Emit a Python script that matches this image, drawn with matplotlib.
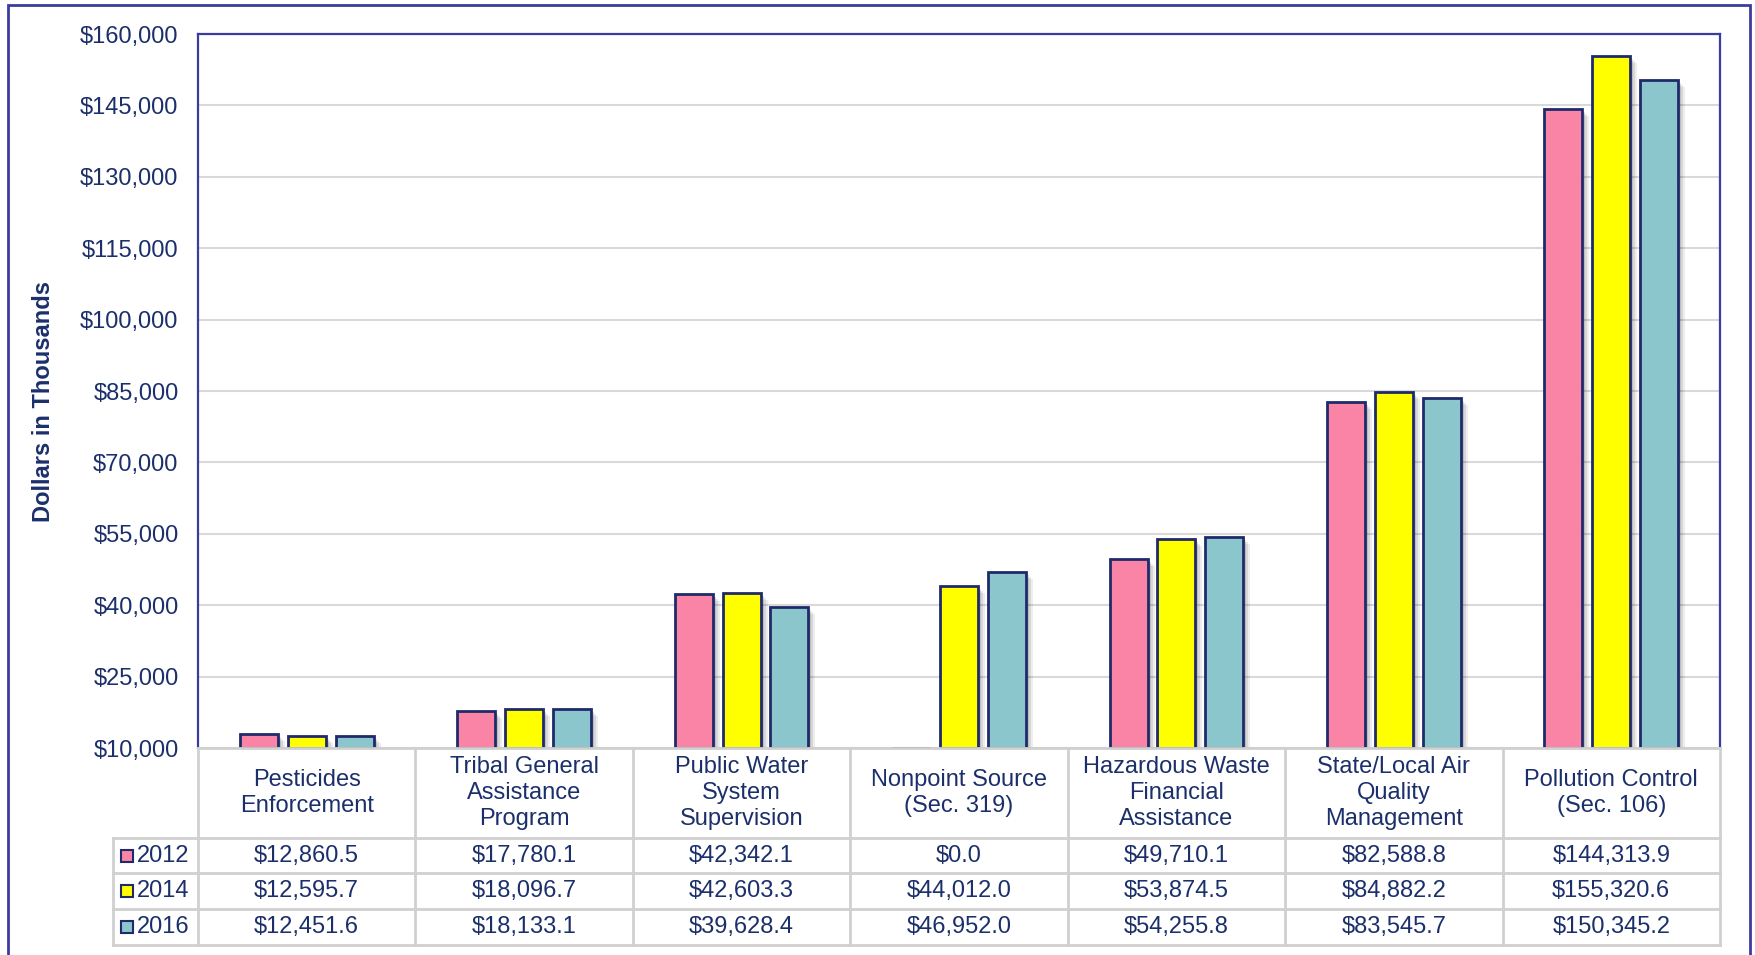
import matplotlib
matplotlib.use("Agg")
import matplotlib.pyplot as plt
from matplotlib.patches import Rectangle
from matplotlib.lines import Line2D

plt.rcParams['font.family'] = ['Liberation Sans', 'DejaVu Sans']

categories = ["Pesticides\nEnforcement", "Tribal General\nAssistance\nProgram",
              "Public Water\nSystem\nSupervision", "Nonpoint Source\n(Sec. 319)",
              "Hazardous Waste\nFinancial\nAssistance", "State/Local Air\nQuality\nManagement",
              "Pollution Control\n(Sec. 106)"]
years = ["2012", "2014", "2016"]
v2012 = [12860.5, 17780.1, 42342.1, 0.0, 49710.1, 82588.8, 144313.9]
v2014 = [12595.7, 18096.7, 42603.3, 44012.0, 53874.5, 84882.2, 155320.6]
v2016 = [12451.6, 18133.1, 39628.4, 46952.0, 54255.8, 83545.7, 150345.2]
yticks = [10000, 25000, 40000, 55000, 70000, 85000, 100000, 115000, 130000, 145000, 160000]

series = [v2012, v2014, v2016]
colors = ["#F984A6", "#FFFF00", "#8CC6CD"]
navy = "#1B2F6B"
edge = "#1F2A6B"
frame = "#3C3CA0"
grid = "#D9D9D9"

W, H = 1756, 955
fig = plt.figure(figsize=(W / 100, H / 100), dpi=100)

def fx(x):
    return x / W

def fy(y):
    return 1 - y / H

# outer border
fig.add_artist(Rectangle((fx(8), -0.02), fx(1750) - fx(8), fy(5) + 0.02,
                         transform=fig.transFigure, fill=False, ec=frame, lw=2))

left, right, top, bottom = 198, 1720, 34, 748
ax = fig.add_axes([fx(left), fy(bottom), fx(right) - fx(left), fy(top) - fy(bottom)])
n = len(categories)
ymin, ymax = yticks[0], yticks[-1]
ax.set_xlim(-0.5, n - 0.5)
ax.set_ylim(ymin, ymax)
ax.set_yticks(yticks)
ax.set_yticklabels(["${:,.0f}".format(t) for t in yticks], color=navy, fontsize=17)
ax.tick_params(axis='y', length=0, pad=14)
ax.set_xticks([])
for t in yticks:
    ax.axhline(t, color=grid, lw=1.5, zorder=0)
for s in ['left', 'right', 'top']:
    ax.spines[s].set_color(frame)
    ax.spines[s].set_linewidth(1.6)
ax.spines['bottom'].set_visible(False)

px_x = (n) / (right - left)
px_y = (ymax - ymin) / (bottom - top)
bw = 0.175
step = 0.22
for i, (vals, c) in enumerate(zip(series, colors)):
    for j, v in enumerate(vals):
        xc = j + (i - 1) * step
        h = max(v - ymin, 0)
        # soft shadow
        for k, a in zip([7, 5, 3], [0.07, 0.09, 0.12]):
            ax.add_patch(Rectangle((xc - bw / 2 + k * px_x, ymin), bw, max(h - k * px_y, 0),
                                   fc="black", ec="none", alpha=a, zorder=1))
        ax.bar(xc, h, bottom=ymin, width=bw, color=c, edgecolor=edge, linewidth=2, zorder=2)

fig.text(fx(44), fy(401), "Dollars in Thousands", rotation=90, ha='center', va='center',
         fontsize=17, fontweight='bold', color=navy)

# data table
col_x = [left + (right - left) * k / n for k in range(n + 1)]
rows_y = [748, 838, 873, 909, 945]
tc = "#D0D0D0"
for y in rows_y:
    x0 = left if y == 748 else 113
    fig.add_artist(Line2D([fx(x0), fx(right)], [fy(y), fy(y)], color=tc, lw=2,
                          transform=fig.transFigure))
for x in col_x:
    fig.add_artist(Line2D([fx(x), fx(x)], [fy(748), fy(945)], color=tc, lw=2,
                          transform=fig.transFigure))
fig.add_artist(Line2D([fx(113), fx(113)], [fy(838), fy(945)], color=tc, lw=2,
                      transform=fig.transFigure))

for j, cat in enumerate(categories):
    xc = (col_x[j] + col_x[j + 1]) / 2
    fig.text(fx(xc), fy(793), cat, ha='center', va='center', fontsize=17,
             color=navy, linespacing=1.22)
    for i, vals in enumerate(series):
        yc = (rows_y[i + 1] + rows_y[i + 2]) / 2
        fig.text(fx(xc), fy(yc), "${:,.1f}".format(vals[j]), ha='center', va='center',
                 fontsize=17, color=navy)

for i, (yr, c) in enumerate(zip(years, colors)):
    yc = (rows_y[i + 1] + rows_y[i + 2]) / 2
    fig.add_artist(Rectangle((fx(121), fy(yc + 6)), fx(12), 12 / H, transform=fig.transFigure,
                             fc=c, ec=edge, lw=1.5))
    fig.text(fx(137), fy(yc), yr, ha='left', va='center', fontsize=17, color=navy)

fig.savefig("out.png", dpi=100)
